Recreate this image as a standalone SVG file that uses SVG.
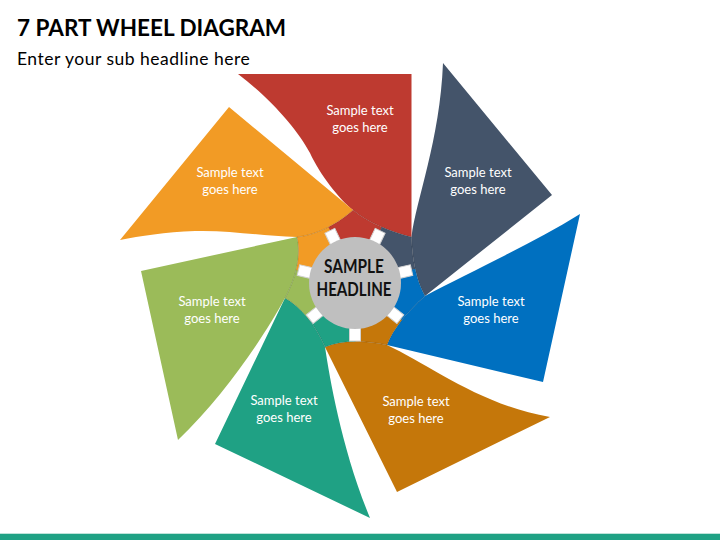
<svg xmlns="http://www.w3.org/2000/svg" width="720" height="540" viewBox="0 0 720 540">
  <defs>
    <style>
      .title { font-family: Lato, "Liberation Sans", sans-serif; font-weight: bold; font-size: 22.5px; fill: #000; }
      .sub { font-family: Lato, "Liberation Sans", sans-serif; font-size: 17.5px; letter-spacing: 0.5px; fill: #000; }
      .t { font-family: Lato, "Liberation Sans", sans-serif; font-size: 13px; fill: #fff; text-anchor: middle; }
      .hl { font-family: Lato, "Liberation Sans", sans-serif; font-weight: bold; font-size: 18px; fill: #111; text-anchor: middle; }
      .knob { fill: #fff; stroke: #d2d2d2; stroke-width: 1; }
      .wedge { stroke-width: 0.6; }
    </style>
    <clipPath id="hubClip">
      <path d="M411.5,237 C392,232 368,223 353,210 C340,222 318,235 297,237 C301,254 297,276 285,298 C301,307 315,324 325,347 C342,340 364,340 387,345 C393,329 407,312 425,296 C417,282 412,260 411.5,237 Z"/>
    </clipPath>
  </defs>

  <rect width="720" height="540" fill="#fff"/>

  <text class="title" x="17" y="36">7 PART WHEEL DIAGRAM</text>
  <text class="sub" x="17" y="65">Enter your sub headline here</text>

  <g id="blade-red">
    <path d="M238,74 L411.5,74 L411.5,237 C392,232 368,223 353,210 C340,200 320,175 310,153 C298,130 270,98 238,74 Z" fill="#BE3A30"/>
    <polygon class="wedge" points="355,283 313.8,197.4 396.2,197.4" fill="#BE3A30" stroke="#BE3A30" clip-path="url(#hubClip)"/>
    <text class="t" x="360" y="115">Sample text</text>
    <text class="t" x="360" y="132">goes here</text>
  </g>

  <g id="blade-slate">
    <path d="M443,63 L552,195 L425,296 C417,282 412,260 411.5,237 C416,200 440,140 443,63 Z" fill="#44546A"/>
    <polygon class="wedge" points="355,283 396.2,197.4 447.6,261.9" fill="#44546A" stroke="#44546A" clip-path="url(#hubClip)"/>
    <text class="t" x="478" y="177">Sample text</text>
    <text class="t" x="478" y="194">goes here</text>
  </g>

  <g id="blade-blue">
    <path d="M580,214 L543,382 L387,345 C393,329 407,312 425,296 C470,272 530,245 580,214 Z" fill="#0070C0"/>
    <polygon class="wedge" points="355,283 447.6,261.9 429.3,342.2" fill="#0070C0" stroke="#0070C0" clip-path="url(#hubClip)"/>
    <text class="t" x="491" y="306">Sample text</text>
    <text class="t" x="491" y="323">goes here</text>
  </g>

  <g id="blade-brown">
    <path d="M550,417 L397,492 L325,347 C342,340 364,340 387,345 C430,365 480,405 550,417 Z" fill="#C5770A"/>
    <polygon class="wedge" points="355,283 429.3,342.2 355,378" fill="#C5770A" stroke="#C5770A" clip-path="url(#hubClip)"/>
    <text class="t" x="416" y="406">Sample text</text>
    <text class="t" x="416" y="423">goes here</text>
  </g>

  <g id="blade-teal">
    <path d="M370,518 L215,444 L285,298 C301,307 315,324 325,347 C330,380 342,450 370,518 Z" fill="#1FA184"/>
    <polygon class="wedge" points="355,283 355,378 280.7,342.2" fill="#1FA184" stroke="#1FA184" clip-path="url(#hubClip)"/>
    <text class="t" x="284" y="405">Sample text</text>
    <text class="t" x="284" y="422">goes here</text>
  </g>

  <g id="blade-green">
    <path d="M178,440 L141,271 L297,237 C301,254 297,276 285,298 C265,335 225,395 178,440 Z" fill="#9BBB59"/>
    <polygon class="wedge" points="355,283 280.7,342.2 262.4,261.9" fill="#9BBB59" stroke="#9BBB59" clip-path="url(#hubClip)"/>
    <text class="t" x="212" y="306">Sample text</text>
    <text class="t" x="212" y="323">goes here</text>
  </g>

  <g id="blade-orange">
    <path d="M120,240 L229,107 L353,210 C340,222 318,235 297,237 C260,236 230,230 195,231 C165,232 140,236 120,240 Z" fill="#F29B25"/>
    <polygon class="wedge" points="355,283 262.4,261.9 313.8,197.4" fill="#F29B25" stroke="#F29B25" clip-path="url(#hubClip)"/>
    <text class="t" x="230" y="177">Sample text</text>
    <text class="t" x="230" y="194">goes here</text>
  </g>

  <g id="hub">
    <path d="M411.5,237 C392,232 368,223 353,210 C340,222 318,235 297,237 C301,254 297,276 285,298 C301,307 315,324 325,347 C342,340 364,340 387,345 C393,329 407,312 425,296 C417,282 412,260 411.5,237 Z" fill="none" stroke="#000" stroke-opacity="0.15" stroke-width="1"/>
    <g transform="translate(355,283)">
      <rect class="knob" x="-5.5" y="-58" width="11" height="14" transform="rotate(-25.71)"/>
      <rect class="knob" x="-5.5" y="-58" width="11" height="14" transform="rotate(25.71)"/>
      <rect class="knob" x="-5.5" y="-58" width="11" height="14" transform="rotate(77.14)"/>
      <rect class="knob" x="-5.5" y="-58" width="11" height="14" transform="rotate(128.57)"/>
      <rect class="knob" x="-5.5" y="-58" width="11" height="14" transform="rotate(180)"/>
      <rect class="knob" x="-5.5" y="-58" width="11" height="14" transform="rotate(231.43)"/>
      <rect class="knob" x="-5.5" y="-58" width="11" height="14" transform="rotate(282.86)"/>
    </g>
    <circle cx="355" cy="283" r="46" fill="#BFBFBF"/>
    <text class="hl" x="354" y="273" textLength="60" lengthAdjust="spacingAndGlyphs">SAMPLE</text>
    <text class="hl" x="354" y="296" textLength="75" lengthAdjust="spacingAndGlyphs">HEADLINE</text>
  </g>

  <g id="footer">
    <rect x="0" y="533" width="720" height="1" fill="#BFE3DA"/>
    <rect x="0" y="534" width="720" height="6" fill="#1FA184"/>
  </g>
</svg>
